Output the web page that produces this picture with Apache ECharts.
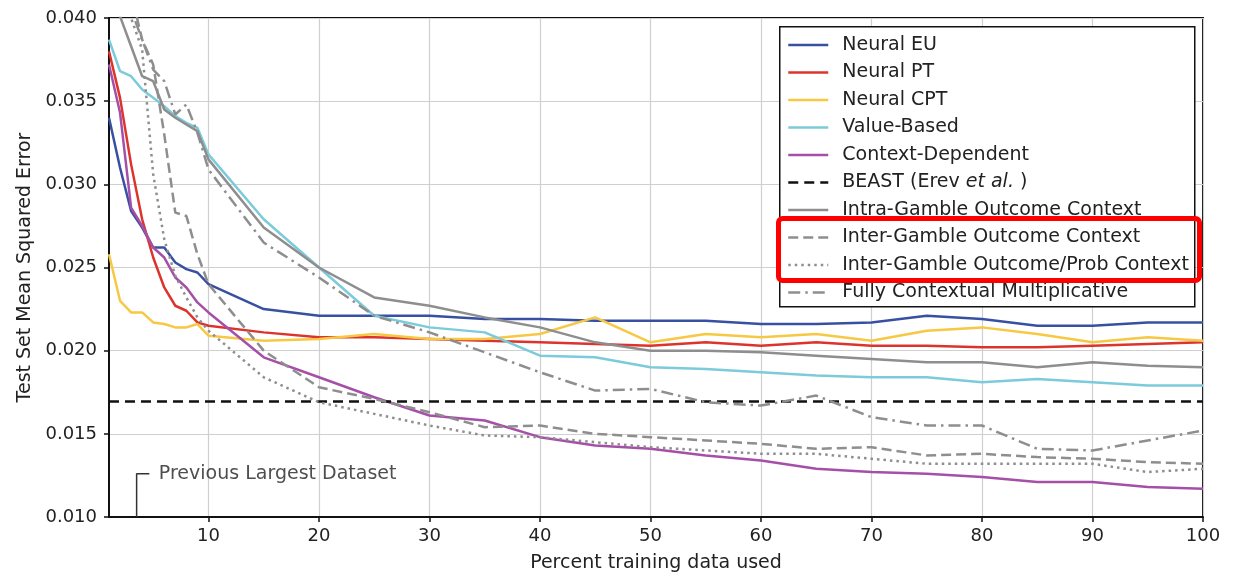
<!DOCTYPE html>
<html><head><meta charset="utf-8">
<script src="https://cdn.jsdelivr.net/npm/echarts@6/dist/echarts.min.js"></script>
<style>html,body{margin:0;padding:0;background:#fff}#c{width:1233px;height:576px}</style>
</head><body><div id="c"></div>
<script>
const xs = [1,2,3,4,5,6,7,8,9,10,15,20,25,30,35,40,45,50,55,60,65,70,75,80,85,90,95,100];
const neuralEU = [0.0340,0.0310,0.0284,0.0274,0.0262,0.0262,0.0253,0.0249,0.0247,0.0240,0.0225,0.0221,0.0221,0.0221,0.0219,0.0219,0.0218,0.0218,0.0218,0.0216,0.0216,0.0217,0.0221,0.0219,0.0215,0.0215,0.0217,0.0217];
const neuralPT = [0.0380,0.0352,0.0312,0.0279,0.0256,0.0238,0.0227,0.0224,0.0217,0.0215,0.0211,0.0208,0.0208,0.0207,0.0206,0.0205,0.0204,0.0203,0.0205,0.0203,0.0205,0.0203,0.0203,0.0202,0.0202,0.0203,0.0204,0.0205];
const neuralCPT = [0.0258,0.0230,0.0223,0.0223,0.0217,0.0216,0.0214,0.0214,0.0216,0.0209,0.0206,0.0207,0.0210,0.0207,0.0207,0.0210,0.0220,0.0205,0.0210,0.0208,0.0210,0.0206,0.0212,0.0214,0.0210,0.0205,0.0208,0.0206];
const valueBased = [0.0387,0.0368,0.0365,0.0357,0.0352,0.0347,0.0341,0.0337,0.0334,0.0318,0.0279,0.0250,0.0221,0.0214,0.0211,0.0197,0.0196,0.0190,0.0189,0.0187,0.0185,0.0184,0.0184,0.0181,0.0183,0.0181,0.0179,0.0179];
const contextDep = [0.0372,0.0343,0.0286,0.0275,0.0262,0.0256,0.0244,0.0238,0.0229,0.0223,0.0196,0.0184,0.0172,0.0161,0.0158,0.0148,0.0143,0.0141,0.0137,0.0134,0.0129,0.0127,0.0126,0.0124,0.0121,0.0121,0.0118,0.0117];
const beastLevel = 0.01695;
const intraGamble = [0.0425,0.0401,0.0383,0.0365,0.0362,0.0345,0.0340,0.0336,0.0332,0.0315,0.0274,0.0250,0.0232,0.0227,0.0220,0.0214,0.0205,0.0200,0.0200,0.0199,0.0197,0.0195,0.0193,0.0193,0.0190,0.0193,0.0191,0.0190];
const interGamble = [0.0480,0.0450,0.0415,0.0387,0.0372,0.0330,0.0283,0.0281,0.0258,0.0240,0.0200,0.0178,0.0171,0.0163,0.0154,0.0155,0.0150,0.0148,0.0146,0.0144,0.0141,0.0142,0.0137,0.0138,0.0136,0.0135,0.0133,0.0132];
const interGambleProb = [0.0460,0.0430,0.0400,0.0381,0.0306,0.0267,0.0245,0.0232,0.0220,0.0212,0.0184,0.0169,0.0162,0.0155,0.0149,0.0148,0.0145,0.0142,0.0140,0.0138,0.0138,0.0135,0.0132,0.0132,0.0132,0.0132,0.0127,0.0129];
const fullyContextual = [0.0470,0.0440,0.0405,0.0387,0.0369,0.0362,0.0342,0.0348,0.0331,0.0309,0.0265,0.0244,0.0221,0.0211,0.0199,0.0187,0.0176,0.0177,0.0169,0.0167,0.0173,0.0160,0.0155,0.0155,0.0141,0.0140,0.0146,0.0152];
const xTicks = [10,20,30,40,50,60,70,80,90,100];
const prevDatasetX = 3.5, prevDatasetTop = 0.0126, prevDatasetArmX = 4.65;
const prevDatasetLabel = 'Previous Largest Dataset';

const names = ['Neural EU','Neural PT','Neural CPT','Value-Based','Context-Dependent','BEAST (Erev et al.)','Intra-Gamble Outcome Context','Inter-Gamble Outcome Context','Inter-Gamble Outcome/Prob Context','Fully Contextual Multiplicative'];
const GRAY = '#8e8e8e';
const pair = arr => xs.map((x,i)=>[x,arr[i]]);
function mk(name, arr, color, type){
  return {name, type:'line', data: pair(arr), showSymbol:false, symbol:'none', clip:true,
    lineStyle:{color, width:2.5, type: type||'solid', cap:'butt'}, itemStyle:{color}, z:2, animation:false};
}
const chart = echarts.init(document.getElementById('c'), null, {renderer:'canvas'});
const FONT = 'DejaVu Sans';
chart.setOption({
  animation:false,
  backgroundColor:'#fff',
  textStyle:{fontFamily:FONT},
  grid:{left:109,right:30,top:18,bottom:59,show:true,borderColor:'#111',borderWidth:2,backgroundColor:'transparent',
    containLabel:false,outerBoundsMode:'none'},
  xAxis:{type:'value',min:1,max:100,
    name:'Percent training data used',nameLocation:'middle',nameGap:37,
    nameTextStyle:{fontFamily:FONT,fontSize:19,color:'#222'},
    axisLine:{show:true,lineStyle:{color:'#111',width:2}},
    axisTick:{show:true,customValues:xTicks,length:5,lineStyle:{color:'#111',width:1.5}},
    axisLabel:{customValues:xTicks,fontFamily:FONT,fontSize:18,color:'#222',margin:10},
    splitLine:{show:true,lineStyle:{color:'#cfcfcf',width:1.2}}},
  yAxis:{type:'value',min:0.010,max:0.040,interval:0.005,
    name:'Test Set Mean Squared Error',nameLocation:'middle',nameGap:74,
    nameTextStyle:{fontFamily:FONT,fontSize:19,color:'#222'},
    axisLine:{show:true,lineStyle:{color:'#111',width:2}},
    axisTick:{show:true,length:5,lineStyle:{color:'#111',width:1.5}},
    axisLabel:{formatter:v=>v.toFixed(3),fontFamily:FONT,fontSize:18,color:'#222',margin:12},
    splitLine:{show:true,lineStyle:{color:'#cfcfcf',width:1.2}}},
  legend:{orient:'vertical',left:787,top:34,data:names,itemWidth:40,itemHeight:14,itemGap:5.5,
    padding:0,backgroundColor:'transparent',borderWidth:0,
    itemStyle:{opacity:0},
    lineStyle:{width:2.5},
    textStyle:{fontFamily:FONT,fontSize:19,color:'#222',lineHeight:22,padding:[0,0,0,9],
      rich:{n:{fontFamily:FONT,fontSize:19,color:'#222'},i:{fontFamily:FONT,fontSize:19,color:'#222',fontStyle:'italic'}}},
    formatter:n=> n==='BEAST (Erev et al.)' ? '{n|BEAST (Erev }{i|et al.}{n| )}' : n,
    z:6},
  graphic:[
    {type:'rect',left:779,top:26,z:5,shape:{width:415,height:280},style:{fill:'#fff',stroke:'#111',lineWidth:1.5}},
    {type:'rect',left:776,top:216,z:20,shape:{width:421,height:62,r:4},style:{fill:'none',stroke:'#ff0000',lineWidth:5}}
  ],
  series:[
    mk(names[0],neuralEU,'#3850a2'),
    mk(names[1],neuralPT,'#dc342d'),
    mk(names[2],neuralCPT,'#f7c843'),
    mk(names[3],valueBased,'#7bcbdb'),
    mk(names[4],contextDep,'#a54fa8'),
    {name:names[5],type:'line',data:[[1,beastLevel],[100,beastLevel]],showSymbol:false,symbol:'none',
      lineStyle:{color:'#111',width:2.5,type:[10,6]},itemStyle:{color:'#111'},z:2},
    mk(names[6],intraGamble,GRAY),
    mk(names[7],interGamble,GRAY,[10,5]),
    mk(names[8],interGambleProb,GRAY,[2.5,4]),
    mk(names[9],fullyContextual,GRAY,[12,5,2.5,5]),
    {name:'prev',type:'line',data:[[prevDatasetX,0.010],[prevDatasetX,prevDatasetTop],[prevDatasetArmX,prevDatasetTop]],
      showSymbol:false,symbol:'none',lineStyle:{color:'#333',width:1.5},z:3,clip:false},
    {name:'prevLabel',type:'scatter',data:[[prevDatasetArmX,prevDatasetTop]],symbolSize:1,itemStyle:{color:'rgba(0,0,0,0)'},
      label:{show:true,position:'right',distance:9,formatter:prevDatasetLabel,fontFamily:FONT,fontSize:19,color:'#222'},z:3}
  ]
});
</script></body></html>
